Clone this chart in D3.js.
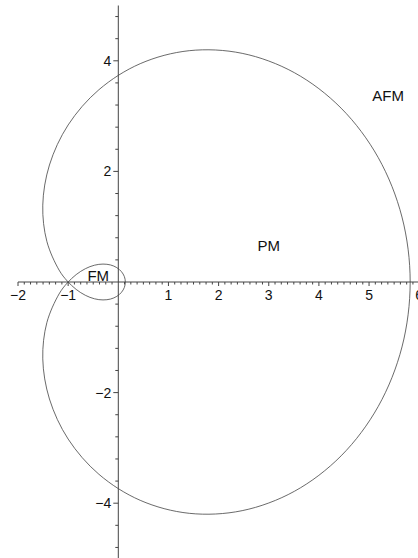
<!DOCTYPE html>
<html>
<head>
<meta charset="utf-8">
<script src="https://cdn.jsdelivr.net/npm/d3@7"></script>
<style>
  html, body { margin: 0; padding: 0; background: #fff; }
  svg { display: block; }
  text { font-family: "Liberation Sans", Arial, Helvetica, sans-serif; fill: #111; }
</style>
</head>
<body>
<svg id="chart" width="418" height="558"></svg>
<script>
// Boundary curve (closed, traced counter-clockwise from the right-hand axis crossing)
const curveX = [5.82, 5.657, 5.183, 4.444, 3.511, 2.470, 1.415, 0.437, -0.387, -1.0,
  -1.373, -1.506, -1.425, -1.181, -1.018, -0.840, -0.656, -0.474, -0.305, -0.154,
  -0.030, 0.063, 0.121, 0.14, 0.121, 0.063, -0.030, -0.154, -0.305, -0.474,
  -0.656, -0.840, -1.018, -1.181, -1.425, -1.506, -1.373, -1.0, -0.387, 0.437,
  1.415, 2.470, 3.511, 4.444, 5.183, 5.657];
const curveY = [0, 1.174, 2.250, 3.143, 3.785, 4.135, 4.183, 3.948, 3.477, 2.84,
  2.116, 1.390, 0.736, 0.216, 0.018, -0.134, -0.241, -0.304, -0.324, -0.308,
  -0.260, -0.187, -0.098, 0, 0.098, 0.187, 0.260, 0.308, 0.324, 0.304,
  0.241, 0.134, -0.018, -0.216, -0.736, -1.390, -2.116, -2.84, -3.477, -3.948,
  -4.183, -4.135, -3.785, -3.143, -2.250, -1.174];

// Axis tick labels
const xTickLabels = [-2, -1, 1, 2, 3, 4, 5, 6];
const yTickLabels = [-4, -2, 2, 4];

// Region names and their positions in data units
const regionNames = ["AFM", "PM", "FM"];
const regionX = [5.38, 3.0, -0.4];
const regionY = [3.27, 0.56, 0.02];

const svg = d3.select("#chart");
const x = d3.scaleLinear().domain([-2, 6]).range([18, 419.2]);
const y = d3.scaleLinear().domain([-5, 5]).range([558.5, 5.5]);

const axisColor = "#444";

// x axis line, minor and major ticks
svg.append("line")
  .attr("x1", x(-2)).attr("x2", 418)
  .attr("y1", y(0)).attr("y2", y(0))
  .attr("stroke", axisColor).attr("stroke-width", 1);

const xMinor = d3.range(-16, 49).map(i => i / 8).filter(v => v !== 0);
svg.append("g").selectAll("line").data(xMinor).join("line")
  .attr("x1", d => x(d)).attr("x2", d => x(d))
  .attr("y1", y(0)).attr("y2", d => y(0) + (Number.isInteger(d) ? 4 : 2.5))
  .attr("stroke", axisColor).attr("stroke-width", 1);

svg.append("g").selectAll("text").data(xTickLabels).join("text")
  .attr("x", d => x(d)).attr("y", y(0) + 18)
  .attr("text-anchor", "middle")
  .attr("font-size", 14)
  .text(d => d < 0 ? "\u2212" + Math.abs(d) : d);

// y axis line, minor and major ticks
svg.append("line")
  .attr("x1", x(0)).attr("x2", x(0))
  .attr("y1", y(5)).attr("y2", y(-5))
  .attr("stroke", axisColor).attr("stroke-width", 1);

const yMinor = d3.range(-12, 13).map(i => i * 0.4).filter(v => Math.abs(v) > 1e-9);
svg.append("g").selectAll("line").data(yMinor).join("line")
  .attr("y1", d => y(d)).attr("y2", d => y(d))
  .attr("x1", x(0)).attr("x2", d => x(0) - (Math.abs(d % 2) < 1e-6 ? 5 : 3))
  .attr("stroke", axisColor).attr("stroke-width", 1);

svg.append("g").selectAll("text").data(yTickLabels).join("text")
  .attr("x", x(0) - 7).attr("y", d => y(d) + 5)
  .attr("text-anchor", "end")
  .attr("font-size", 14)
  .text(d => d < 0 ? "\u2212" + Math.abs(d) : d);

// the phase boundary
const pts = curveX.map((v, i) => [v, curveY[i]]);
const line = d3.line()
  .x(d => x(d[0])).y(d => y(d[1]))
  .curve(d3.curveCatmullRomClosed.alpha(0.5));
svg.append("path")
  .attr("d", line(pts))
  .attr("fill", "none")
  .attr("stroke", "#444")
  .attr("stroke-width", 0.8);

// region labels
svg.append("g").selectAll("text").data(regionNames).join("text")
  .attr("x", (d, i) => x(regionX[i])).attr("y", (d, i) => y(regionY[i]))
  .attr("text-anchor", "middle")
  .attr("font-size", 15)
  .text(d => d);
</script>
</body>
</html>
